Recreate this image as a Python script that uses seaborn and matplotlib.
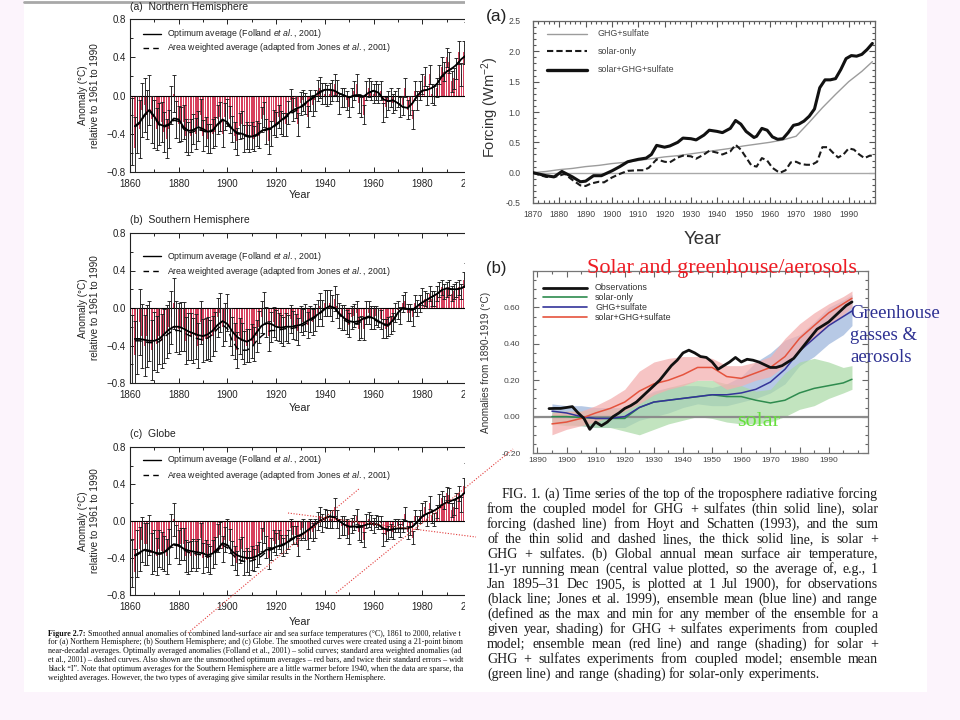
import matplotlib
matplotlib.use("Agg")
import matplotlib.pyplot as plt
from matplotlib.lines import Line2D
from matplotlib.patches import Rectangle
from matplotlib.ticker import MultipleLocator
import seaborn as sns

W, H = 960, 720
SANS = ["Liberation Sans", "DejaVu Sans"]
SERIF = ["Liberation Serif", "DejaVu Serif"]

# ---------------- left figure: annual anomalies 1861-2000 ----------------
YEARS = list(range(1861, 2001))
SMOOTH_YEARS = list(range(1862, 2001, 2))

NH_BARS = [
    -0.38, -0.55, -0.30, -0.35, -0.15, -0.10, -0.20, -0.05, -0.25, -0.30,
    -0.35, -0.30, -0.28, -0.38, -0.45, -0.35, -0.10, 0.02, -0.25, -0.30,
    -0.30, -0.28, -0.42, -0.45, -0.42, -0.35, -0.40, -0.32, -0.20, -0.42,
    -0.38, -0.45, -0.45, -0.40, -0.38, -0.25, -0.22, -0.40, -0.22, -0.18,
    -0.25, -0.35, -0.42, -0.48, -0.32, -0.30, -0.45, -0.42, -0.45, -0.42,
    -0.45, -0.40, -0.42, -0.25, -0.20, -0.38, -0.48, -0.40, -0.28, -0.30,
    -0.22, -0.28, -0.30, -0.30, -0.18, -0.05, -0.15, -0.12, -0.30, -0.08,
    -0.05, -0.08, -0.22, -0.05, -0.10, -0.05, 0.05, 0.08, 0.02, 0.02,
    0.00, 0.02, 0.05, 0.12, 0.05, -0.08, -0.02, -0.02, -0.05, -0.12,
    -0.02, 0.05, 0.12, -0.08, -0.12, -0.20, 0.05, 0.08, 0.05, 0.02,
    0.05, 0.02, 0.05, -0.18, -0.12, -0.05, -0.02, -0.08, -0.05, -0.02,
    -0.12, -0.10, 0.08, -0.15, -0.10, -0.25, 0.05, -0.05, 0.05, 0.12,
    0.20, 0.00, 0.22, 0.02, 0.00, 0.08, 0.22, 0.30, 0.25, 0.40,
    0.35, 0.15, 0.18, 0.28, 0.45, 0.22, 0.45, 0.65, 0.50, 0.45,
]
NH_ERR = [
    0.35, 0.32, 0.30, 0.30, 0.28, 0.28, 0.26, 0.26, 0.25, 0.25,
    0.22, 0.22, 0.21, 0.21, 0.20, 0.20, 0.20, 0.19, 0.19, 0.19,
    0.18, 0.18, 0.17, 0.17, 0.17, 0.16, 0.16, 0.16, 0.16, 0.16,
    0.15, 0.15, 0.15, 0.15, 0.15, 0.15, 0.15, 0.14, 0.14, 0.14,
    0.14, 0.14, 0.14, 0.14, 0.14, 0.14, 0.14, 0.14, 0.14, 0.14,
    0.13, 0.13, 0.13, 0.13, 0.13, 0.13, 0.13, 0.13, 0.13, 0.13,
    0.12, 0.12, 0.12, 0.12, 0.12, 0.12, 0.12, 0.12, 0.12, 0.12,
    0.11, 0.11, 0.11, 0.11, 0.11, 0.11, 0.11, 0.11, 0.11, 0.11,
    0.11, 0.11, 0.11, 0.11, 0.11, 0.11, 0.10, 0.10, 0.10, 0.10,
    0.10, 0.10, 0.10, 0.10, 0.10, 0.10, 0.10, 0.10, 0.10, 0.10,
    0.10, 0.10, 0.10, 0.10, 0.10, 0.10, 0.10, 0.10, 0.10, 0.10,
    0.10, 0.10, 0.10, 0.10, 0.10, 0.10, 0.10, 0.10, 0.10, 0.10,
    0.10, 0.10, 0.10, 0.10, 0.10, 0.10, 0.10, 0.10, 0.10, 0.10,
    0.11, 0.11, 0.11, 0.11, 0.12, 0.12, 0.12, 0.12, 0.13, 0.13,
]
NH_SMOOTH = [
    -0.32, -0.28, -0.20, -0.15, -0.22, -0.30, -0.32, -0.30, -0.24, -0.25,
    -0.33, -0.37, -0.36, -0.33, -0.35, -0.38, -0.36, -0.30, -0.25, -0.28,
    -0.35, -0.39, -0.40, -0.42, -0.43, -0.41, -0.37, -0.35, -0.34, -0.30,
    -0.26, -0.22, -0.17, -0.14, -0.12, -0.08, -0.04, 0.00, 0.04, 0.06,
    0.06, 0.05, 0.02, 0.00, -0.02, 0.00, 0.00, -0.01, 0.03, 0.05,
    0.03, -0.04, -0.06, -0.05, -0.08, -0.12, -0.13, -0.08, 0.00, 0.05,
    0.06, 0.08, 0.12, 0.20, 0.25, 0.28, 0.32, 0.38, 0.42, 0.45,
]
NH_DASHED = [
    -0.33, -0.29, -0.21, -0.16, -0.23, -0.31, -0.33, -0.31, -0.26, -0.27,
    -0.35, -0.39, -0.38, -0.35, -0.37, -0.39, -0.37, -0.31, -0.26, -0.30,
    -0.36, -0.40, -0.41, -0.43, -0.44, -0.42, -0.38, -0.36, -0.35, -0.31,
    -0.27, -0.23, -0.19, -0.16, -0.13, -0.09, -0.05, -0.01, 0.03, 0.06,
    0.06, 0.05, 0.02, 0.00, -0.02, 0.00, 0.00, -0.01, 0.03, 0.05,
    0.03, -0.04, -0.06, -0.05, -0.08, -0.12, -0.13, -0.08, 0.00, 0.05,
    0.06, 0.08, 0.12, 0.20, 0.25, 0.28, 0.32, 0.38, 0.42, 0.45,
]

SH_BARS = [
    -0.45, -0.50, -0.35, -0.15, -0.30, -0.40, -0.30, -0.25, -0.45, -0.35,
    -0.38, -0.30, -0.35, -0.30, -0.25, -0.20, -0.10, 0.05, -0.20, -0.22,
    -0.20, -0.20, -0.35, -0.30, -0.30, -0.35, -0.30, -0.40, -0.15, -0.35,
    -0.33, -0.32, -0.35, -0.30, -0.25, -0.10, -0.05, -0.20, -0.15, -0.05,
    -0.20, -0.30, -0.35, -0.45, -0.30, -0.35, -0.42, -0.40, -0.40, -0.35,
    -0.38, -0.30, -0.20, -0.10, 0.00, -0.15, -0.30, -0.20, -0.15, -0.18,
    -0.20, -0.22, -0.25, -0.20, -0.22, -0.12, -0.18, -0.20, -0.25, -0.12,
    -0.15, -0.10, -0.18, -0.12, -0.15, -0.10, -0.05, 0.02, -0.05, 0.05,
    0.05, 0.05, 0.00, 0.10, 0.02, -0.08, -0.10, -0.10, -0.15, -0.18,
    -0.10, -0.08, -0.05, -0.22, -0.20, -0.22, -0.05, -0.05, -0.10, -0.10,
    -0.08, -0.10, -0.12, -0.22, -0.22, -0.20, -0.18, -0.15, -0.05, -0.02,
    -0.08, 0.05, 0.08, -0.05, -0.05, -0.10, 0.05, 0.00, 0.05, 0.12,
    0.10, 0.08, 0.15, 0.10, 0.10, 0.15, 0.20, 0.22, 0.18, 0.20,
    0.22, 0.15, 0.18, 0.20, 0.22, 0.18, 0.30, 0.40, 0.20, 0.18,
]
SH_ERR = [
    0.38, 0.36, 0.35, 0.35, 0.34, 0.33, 0.33, 0.32, 0.32, 0.31,
    0.30, 0.30, 0.29, 0.29, 0.28, 0.28, 0.28, 0.27, 0.27, 0.27,
    0.26, 0.26, 0.25, 0.25, 0.25, 0.24, 0.24, 0.24, 0.23, 0.23,
    0.22, 0.22, 0.22, 0.21, 0.21, 0.21, 0.21, 0.20, 0.20, 0.20,
    0.20, 0.20, 0.19, 0.19, 0.19, 0.19, 0.18, 0.18, 0.18, 0.18,
    0.18, 0.17, 0.17, 0.17, 0.17, 0.16, 0.16, 0.16, 0.16, 0.16,
    0.15, 0.15, 0.15, 0.15, 0.15, 0.15, 0.15, 0.14, 0.14, 0.14,
    0.14, 0.14, 0.14, 0.14, 0.14, 0.14, 0.14, 0.14, 0.14, 0.14,
    0.14, 0.14, 0.14, 0.13, 0.13, 0.13, 0.13, 0.13, 0.13, 0.13,
    0.12, 0.12, 0.12, 0.12, 0.12, 0.12, 0.12, 0.12, 0.12, 0.12,
    0.10, 0.10, 0.10, 0.10, 0.10, 0.10, 0.10, 0.10, 0.10, 0.10,
    0.09, 0.09, 0.09, 0.09, 0.09, 0.09, 0.09, 0.09, 0.09, 0.09,
    0.08, 0.08, 0.08, 0.08, 0.08, 0.08, 0.08, 0.08, 0.08, 0.08,
    0.08, 0.08, 0.08, 0.08, 0.08, 0.08, 0.08, 0.08, 0.08, 0.08,
]
SH_SMOOTH = [
    -0.33, -0.33, -0.34, -0.35, -0.35, -0.33, -0.28, -0.23, -0.20, -0.20,
    -0.22, -0.25, -0.27, -0.29, -0.30, -0.28, -0.24, -0.18, -0.14, -0.17,
    -0.25, -0.31, -0.34, -0.36, -0.33, -0.26, -0.19, -0.16, -0.17, -0.20,
    -0.21, -0.20, -0.20, -0.19, -0.18, -0.15, -0.12, -0.09, -0.05, -0.01,
    0.02, 0.00, -0.06, -0.11, -0.14, -0.15, -0.14, -0.11, -0.09, -0.11,
    -0.14, -0.17, -0.18, -0.13, -0.05, 0.00, -0.01, -0.02, 0.02, 0.06,
    0.09, 0.12, 0.15, 0.19, 0.21, 0.20, 0.20, 0.21, 0.24, 0.26,
]
SH_DASHED = [
    -0.35, -0.35, -0.36, -0.37, -0.37, -0.36, -0.31, -0.27, -0.24, -0.24,
    -0.26, -0.29, -0.31, -0.33, -0.34, -0.32, -0.28, -0.22, -0.18, -0.22,
    -0.35, -0.43, -0.45, -0.45, -0.42, -0.35, -0.30, -0.26, -0.24, -0.24,
    -0.23, -0.22, -0.22, -0.21, -0.20, -0.17, -0.14, -0.10, -0.06, -0.01,
    0.02, 0.00, -0.07, -0.13, -0.16, -0.17, -0.16, -0.12, -0.10, -0.12,
    -0.15, -0.18, -0.19, -0.14, -0.05, 0.00, -0.01, -0.02, 0.02, 0.06,
    0.09, 0.12, 0.15, 0.19, 0.21, 0.20, 0.20, 0.21, 0.24, 0.26,
]

GL_BARS = [
    -0.45, -0.55, -0.35, -0.30, -0.20, -0.25, -0.25, -0.15, -0.35, -0.32,
    -0.38, -0.30, -0.32, -0.35, -0.38, -0.28, -0.10, 0.02, -0.22, -0.28,
    -0.25, -0.25, -0.38, -0.40, -0.38, -0.35, -0.38, -0.35, -0.18, -0.40,
    -0.35, -0.40, -0.42, -0.36, -0.32, -0.18, -0.15, -0.30, -0.20, -0.12,
    -0.22, -0.35, -0.40, -0.45, -0.32, -0.30, -0.45, -0.42, -0.45, -0.40,
    -0.42, -0.38, -0.35, -0.20, -0.12, -0.28, -0.40, -0.30, -0.22, -0.25,
    -0.20, -0.25, -0.28, -0.25, -0.20, -0.08, -0.15, -0.15, -0.28, -0.10,
    -0.08, -0.10, -0.20, -0.08, -0.12, -0.08, 0.00, 0.05, -0.02, 0.03,
    0.02, 0.02, 0.02, 0.15, 0.02, -0.08, -0.05, -0.05, -0.08, -0.15,
    -0.05, -0.02, 0.05, -0.12, -0.15, -0.20, 0.00, 0.02, -0.02, -0.05,
    0.00, -0.02, -0.02, -0.20, -0.15, -0.12, -0.10, -0.12, -0.05, -0.05,
    -0.10, -0.05, 0.08, -0.12, -0.08, -0.18, 0.05, -0.02, 0.05, 0.12,
    0.15, 0.02, 0.20, 0.05, 0.02, 0.10, 0.22, 0.25, 0.20, 0.30,
    0.28, 0.12, 0.15, 0.22, 0.30, 0.18, 0.38, 0.55, 0.30, 0.28,
]
GL_ERR = [
    0.26, 0.25, 0.25, 0.24, 0.24, 0.23, 0.23, 0.22, 0.22, 0.22,
    0.20, 0.20, 0.20, 0.19, 0.19, 0.19, 0.18, 0.18, 0.18, 0.18,
    0.17, 0.17, 0.17, 0.17, 0.16, 0.16, 0.16, 0.16, 0.16, 0.16,
    0.15, 0.15, 0.15, 0.15, 0.15, 0.15, 0.14, 0.14, 0.14, 0.14,
    0.13, 0.13, 0.13, 0.13, 0.13, 0.13, 0.13, 0.13, 0.13, 0.13,
    0.12, 0.12, 0.12, 0.12, 0.12, 0.12, 0.12, 0.12, 0.12, 0.12,
    0.10, 0.10, 0.10, 0.10, 0.10, 0.10, 0.10, 0.10, 0.10, 0.10,
    0.10, 0.10, 0.10, 0.10, 0.10, 0.10, 0.10, 0.10, 0.10, 0.10,
    0.10, 0.10, 0.10, 0.10, 0.10, 0.10, 0.10, 0.10, 0.10, 0.10,
    0.08, 0.08, 0.08, 0.08, 0.08, 0.08, 0.08, 0.08, 0.08, 0.08,
    0.07, 0.07, 0.07, 0.07, 0.07, 0.07, 0.07, 0.07, 0.07, 0.07,
    0.07, 0.07, 0.07, 0.07, 0.07, 0.07, 0.07, 0.07, 0.07, 0.07,
    0.07, 0.07, 0.07, 0.07, 0.07, 0.07, 0.07, 0.07, 0.07, 0.07,
    0.08, 0.08, 0.08, 0.08, 0.08, 0.08, 0.08, 0.08, 0.08, 0.08,
]
GL_SMOOTH = [
    -0.37, -0.34, -0.31, -0.32, -0.34, -0.35, -0.34, -0.29, -0.25, -0.26,
    -0.30, -0.32, -0.33, -0.34, -0.35, -0.37, -0.35, -0.30, -0.24, -0.26,
    -0.33, -0.37, -0.39, -0.40, -0.40, -0.38, -0.35, -0.31, -0.30, -0.28,
    -0.26, -0.24, -0.20, -0.17, -0.15, -0.12, -0.08, -0.04, 0.00, 0.03,
    0.05, 0.04, 0.00, -0.04, -0.06, -0.06, -0.06, -0.05, -0.03, -0.03,
    -0.04, -0.08, -0.10, -0.09, -0.08, -0.08, -0.08, -0.06, -0.01, 0.05,
    0.08, 0.10, 0.13, 0.17, 0.20, 0.22, 0.24, 0.27, 0.32, 0.35,
]
GL_DASHED = [
    -0.38, -0.35, -0.32, -0.33, -0.35, -0.36, -0.35, -0.30, -0.26, -0.27,
    -0.31, -0.34, -0.35, -0.36, -0.37, -0.39, -0.37, -0.32, -0.26, -0.29,
    -0.36, -0.41, -0.43, -0.44, -0.43, -0.41, -0.38, -0.33, -0.31, -0.29,
    -0.27, -0.25, -0.21, -0.18, -0.16, -0.12, -0.08, -0.04, 0.00, 0.03,
    0.05, 0.04, 0.00, -0.04, -0.06, -0.07, -0.07, -0.05, -0.03, -0.03,
    -0.04, -0.08, -0.10, -0.09, -0.08, -0.08, -0.08, -0.06, -0.01, 0.05,
    0.08, 0.10, 0.13, 0.17, 0.20, 0.22, 0.24, 0.27, 0.32, 0.35,
]

LEFT_PANELS = [
    # title, bars, errors, smooth, dashed, (top, bottom) px, legend rows px, title y, "Year" y
    ("(a)  Northern Hemisphere", NH_BARS, NH_ERR, NH_SMOOTH, NH_DASHED, (19, 172), (34, 48), 7, 195),
    ("(b)  Southern Hemisphere", SH_BARS, SH_ERR, SH_SMOOTH, SH_DASHED, (233, 383), (256, 271), 220, 408),
    ("(c)  Globe", GL_BARS, GL_ERR, GL_SMOOTH, GL_DASHED, (447, 595), (460, 475), 434, 622),
]
LEFT_LEGEND = [r"Optimum average (Folland $\it{et\ al.}$, 2001)",
               r"Area weighted average (adapted from Jones $\it{et\ al.}$, 2001)"]
LEFT_YTICKS = [-0.8, -0.4, 0.0, 0.4, 0.8]
LEFT_YTICKLABELS = ["\u22120.8", "\u22120.4", "0.0", "0.4", "0.8"]

LEFT_CAPTION = [
    "Smoothed annual anomalies of combined land-surface air and sea surface temperatures (\u00b0C), 1861 to 2000, relative to 1961 to 1990,",
    "for (a) Northern Hemisphere; (b) Southern Hemisphere; and (c) Globe. The smoothed curves were created using a 21-point binomial filter to give",
    "near-decadal averages. Optimally averaged anomalies (Folland et al., 2001) \u2013 solid curves; standard area weighted anomalies (adapted from Jones",
    "et al., 2001) \u2013 dashed curves. Also shown are the unsmoothed optimum averages \u2013 red bars, and twice their standard errors \u2013 width of each",
    "black \u201cI\u201d. Note that optimum averages for the Southern Hemisphere are a little warmer before 1940, when the data are sparse, than the area",
    "weighted averages. However, the two types of averaging give similar results in the Northern Hemisphere.",
]

# ---------------- right (a): radiative forcing ----------------
GHG_YEARS = [1870, 1875, 1880, 1885, 1890, 1895, 1900, 1905, 1910, 1915, 1920, 1925, 1930,
             1935, 1940, 1945, 1950, 1955, 1960, 1965, 1970, 1975, 1980, 1985, 1990, 1995, 1999]
GHG_FORCING = [0.0, 0.02, 0.05, 0.07, 0.10, 0.12, 0.15, 0.17, 0.20, 0.23, 0.26, 0.28, 0.31,
               0.34, 0.37, 0.40, 0.44, 0.47, 0.50, 0.54, 0.60, 0.83, 1.07, 1.29, 1.50, 1.67, 1.83]
SOLAR_YEARS = [1870, 1872, 1875, 1878, 1880, 1882, 1885, 1888, 1890, 1892, 1895, 1897, 1900,
               1903, 1906, 1910, 1912, 1914, 1917, 1920, 1922, 1925, 1927, 1930, 1932, 1935,
               1937, 1940, 1942, 1945, 1947, 1949, 1951, 1953, 1955, 1957, 1959, 1961, 1963,
               1964, 1966, 1968, 1970, 1972, 1974, 1976, 1978, 1980, 1982, 1984, 1986, 1988,
               1990, 1992, 1994, 1996, 1998, 1999]
SOLAR_FORCING = [0.0, -0.03, -0.07, -0.07, -0.05, -0.02, -0.12, -0.21, -0.22, -0.18, -0.15,
                 -0.16, -0.08, -0.02, 0.03, 0.04, 0.04, 0.08, 0.22, 0.18, 0.17, 0.25, 0.28,
                 0.27, 0.23, 0.30, 0.36, 0.33, 0.30, 0.35, 0.46, 0.38, 0.25, 0.12, 0.10, 0.24,
                 0.20, 0.08, 0.02, 0.0, 0.04, 0.17, 0.18, 0.14, 0.13, 0.13, 0.18, 0.42, 0.42,
                 0.33, 0.25, 0.30, 0.40, 0.38, 0.30, 0.24, 0.28, 0.28]
TOTAL_YEARS = [1870, 1875, 1878, 1881, 1885, 1888, 1890, 1893, 1896, 1900, 1903, 1906, 1910,
               1913, 1915, 1917, 1920, 1922, 1925, 1927, 1930, 1932, 1935, 1937, 1940, 1942,
               1945, 1947, 1949, 1951, 1954, 1955, 1957, 1959, 1961, 1963, 1965, 1967, 1969,
               1971, 1973, 1975, 1977, 1979, 1981, 1983, 1985, 1987, 1989, 1991, 1993, 1995,
               1997, 1999]
TOTAL_FORCING = [0.0, -0.05, -0.07, 0.02, -0.07, -0.15, -0.14, -0.05, -0.05, 0.03, 0.10, 0.18,
                 0.22, 0.24, 0.30, 0.45, 0.42, 0.44, 0.50, 0.57, 0.56, 0.54, 0.62, 0.70, 0.68,
                 0.66, 0.73, 0.86, 0.80, 0.68, 0.58, 0.60, 0.73, 0.70, 0.59, 0.55, 0.56, 0.66,
                 0.78, 0.80, 0.85, 0.93, 1.05, 1.40, 1.53, 1.53, 1.55, 1.70, 1.88, 1.93, 1.92,
                 1.95, 2.03, 2.13]
FORCING_LEGEND = ["GHG+sulfate", "solar-only", "solar+GHG+sulfate"]

# ---------------- right (b): temperature anomalies ----------------
BAND_YEARS = [1895, 1900, 1905, 1910, 1915, 1920, 1925, 1930, 1935, 1940, 1945,
              1950, 1955, 1960, 1965, 1970, 1975, 1980, 1985, 1990, 1995, 1998]
RED_MEAN = [-0.04, -0.03, -0.01, 0.02, 0.045, 0.08, 0.14, 0.18, 0.20, 0.23, 0.27,
            0.27, 0.22, 0.21, 0.24, 0.27, 0.33, 0.43, 0.50, 0.57, 0.62, 0.65]
RED_LO = [-0.10, -0.07, -0.05, -0.03, 0.00, 0.03, 0.07, 0.12, 0.15, 0.17, 0.20,
          0.20, 0.15, 0.17, 0.20, 0.22, 0.28, 0.36, 0.43, 0.50, 0.56, 0.60]
RED_HI = [0.02, 0.03, 0.03, 0.06, 0.10, 0.15, 0.25, 0.30, 0.32, 0.33, 0.33,
          0.32, 0.28, 0.28, 0.30, 0.33, 0.43, 0.51, 0.57, 0.62, 0.66, 0.69]
BLUE_MEAN = [0.03, 0.02, 0.00, -0.01, -0.01, 0.00, 0.05, 0.08, 0.09, 0.10, 0.11,
             0.12, 0.12, 0.13, 0.15, 0.19, 0.26, 0.36, 0.43, 0.50, 0.55, 0.58]
BLUE_LO = [-0.03, -0.04, -0.05, -0.06, -0.06, -0.06, -0.02, 0.00, 0.02, 0.05, 0.07,
           0.06, 0.06, 0.08, 0.10, 0.13, 0.18, 0.28, 0.33, 0.40, 0.45, 0.50]
BLUE_HI = [0.07, 0.06, 0.06, 0.05, 0.05, 0.05, 0.10, 0.14, 0.16, 0.17, 0.17,
           0.16, 0.18, 0.22, 0.30, 0.35, 0.42, 0.45, 0.52, 0.60, 0.64, 0.67]
GREEN_MEAN = [0.00, 0.00, -0.005, -0.01, -0.01, -0.01, 0.05, 0.08, 0.09, 0.10, 0.11,
              0.12, 0.11, 0.11, 0.09, 0.075, 0.09, 0.13, 0.155, 0.17, 0.185, 0.205]
GREEN_LO = [-0.04, -0.05, -0.05, -0.06, -0.06, -0.08, -0.10, -0.07, -0.04, -0.02, 0.00,
            -0.01, -0.03, -0.04, -0.04, -0.03, 0.00, 0.04, 0.06, 0.10, 0.13, 0.15]
GREEN_HI = [0.03, 0.03, 0.03, 0.04, 0.04, 0.05, 0.10, 0.13, 0.16, 0.18, 0.20,
            0.20, 0.18, 0.17, 0.14, 0.15, 0.24, 0.30, 0.32, 0.30, 0.27, 0.28]
OBS_YEARS = list(range(1894, 1999, 2))
OBS = [0.044, 0.045, 0.045, 0.05, 0.055, 0.02, -0.01, -0.07, -0.03, -0.05,
       -0.03, 0.0, 0.02, 0.045, 0.06, 0.08, 0.11, 0.14, 0.17, 0.20,
       0.24, 0.28, 0.31, 0.35, 0.365, 0.35, 0.33, 0.325, 0.30, 0.26,
       0.28, 0.30, 0.325, 0.30, 0.315, 0.31, 0.30, 0.285, 0.27, 0.27,
       0.28, 0.30, 0.32, 0.36, 0.40, 0.44, 0.48, 0.50, 0.52, 0.55,
       0.58, 0.61, 0.63]
ANOM_LEGEND = ["Observations", "solar-only", "GHG+sulfate", "solar+GHG+sulfate"]

RIGHT_CAPTION = [
    "FIG. 1. (a) Time series of the top of the troposphere radiative forcing",
    "from the coupled model for GHG + sulfates (thin solid line), solar",
    "forcing (dashed line) from Hoyt and Schatten (1993), and the sum",
    "of the thin solid and dashed lines, the thick solid line, is solar +",
    "GHG + sulfates. (b) Global annual mean surface air temperature,",
    "11-yr running mean (central value plotted, so the average of, e.g., 1",
    "Jan 1895\u201331 Dec 1905, is plotted at 1 Jul 1900), for observations",
    "(black line; Jones et al. 1999), ensemble mean (blue line) and range",
    "(defined as the max and min for any member of the ensemble for a",
    "given year, shading) for GHG + sulfates experiments from coupled",
    "model; ensemble mean (red line) and range (shading) for solar +",
    "GHG + sulfates experiments from coupled model; ensemble mean",
    "(green line) and range (shading) for solar-only experiments.",
]

BAR_RED = "#d8405e"
OBS_BLACK = "#111111"
GREEN = "#2e8b4e"
BLUE = "#34339a"
RED = "#e5533d"

sns.set_style("ticks")
plt.rcParams["font.family"] = SANS
plt.rcParams["mathtext.fontset"] = "custom"
plt.rcParams["mathtext.rm"] = "Liberation Sans"
plt.rcParams["mathtext.it"] = "Liberation Sans:italic"
plt.rcParams["axes.unicode_minus"] = False

fig = plt.figure(figsize=(9.6, 7.2), dpi=100, facecolor="#fcf4fc")
renderer = fig.canvas.get_renderer()


def fx(x):
    return x / W


def fy(y):
    return 1 - y / H


def axes_px(l, t, r, b):
    return fig.add_axes([l / W, 1 - b / H, (r - l) / W, (b - t) / H])


def fig_line(x0, y0, x1, y1, **kw):
    fig.add_artist(Line2D([fx(x0), fx(x1)], [fy(y0), fy(y1)], transform=fig.transFigure, **kw))


def text_width(s, size, family, weight="normal"):
    t = fig.text(0, 0, s, fontsize=size, family=family, fontweight=weight)
    w = t.get_window_extent(renderer).width
    t.remove()
    return w


def cut_to_width(s, limit, size, family):
    # the left page is cropped on the slide: keep only what fits before the edge
    while s and text_width(s, size, family) > limit:
        s = s[:-1]
    return s


# white pages
fig.add_artist(Rectangle((fx(24), fy(692)), (927 - 24) / W, 692 / H, transform=fig.transFigure,
                         facecolor="white", edgecolor="none", zorder=-2))
# right page hides the cut-off right edge of the left figure
fig.add_artist(Rectangle((fx(465), fy(692)), (927 - 465) / W, 692 / H, transform=fig.transFigure,
                         facecolor="white", edgecolor="none", zorder=0.5))
fig_line(24, 2, 465, 2, color="#a8a8a8", lw=2, zorder=0.3)

# ---------------- left panels ----------------
for title, bars, errs, smooth, dashed, (top, bot), rows, title_y, xlab_y in LEFT_PANELS:
    ax = axes_px(130, top, 471, bot)
    ax.set_zorder(0)
    ax.bar(YEARS, bars, width=0.62, color=BAR_RED, linewidth=0, zorder=1)
    ax.errorbar(YEARS, bars, yerr=errs, fmt="none", ecolor="#1e1e1e", elinewidth=0.65,
                capsize=1.2, capthick=0.65, zorder=2)
    ax.axhline(0, color="black", lw=0.8, zorder=1.5)
    sns.lineplot(x=SMOOTH_YEARS, y=dashed, ax=ax, color="black", lw=1.0,
                 linestyle=(0, (5, 3)), legend=False, zorder=3)
    sns.lineplot(x=SMOOTH_YEARS, y=smooth, ax=ax, color="black", lw=1.3, legend=False, zorder=3)
    ax.set_xlim(1860, 2000)
    ax.set_ylim(-0.8, 0.8)
    ax.xaxis.set_major_locator(MultipleLocator(20))
    ax.xaxis.set_minor_locator(MultipleLocator(10))
    ax.set_yticks(LEFT_YTICKS)
    ax.set_yticklabels(LEFT_YTICKLABELS)
    ax.yaxis.set_minor_locator(MultipleLocator(0.2))
    ax.tick_params(which="both", direction="in", top=True, right=False, width=0.7,
                   labelsize=7, colors="#222222")
    ax.tick_params(which="major", length=3.5)
    ax.tick_params(which="minor", length=2.5)
    ax.tick_params(axis="x", pad=5)
    ax.tick_params(axis="y", pad=3)
    ax.set_xlabel("")
    ax.set_ylabel("")
    for s in ["left", "bottom", "top"]:
        ax.spines[s].set_linewidth(0.8)
        ax.spines[s].set_color("#222222")
    ax.spines["right"].set_visible(False)

    fig.text(fx(130), fy(title_y), title, fontsize=7.5, va="center", ha="left", color="#222222")
    fig.text(fx(300), fy(xlab_y), "Year", fontsize=7.8, va="center", ha="center", color="#222222")
    fig.text(fx(89), fy((top + bot) / 2), "Anomaly (\u00b0C)\nrelative to 1961 to 1990",
             fontsize=7.2, rotation=90, va="center", ha="center", color="#222222", linespacing=1.35)
    for row_y, label, style in zip(rows, LEFT_LEGEND, ["-", (0, (4, 3))]):
        fig_line(143, row_y, 161, row_y, color="black", lw=1.0, linestyle=style, zorder=0.4)
        fig.text(fx(167), fy(row_y), label, fontsize=6.3, va="center", ha="left",
                 color="#222222", zorder=0.4)

# left caption, cropped at the page edge like the slide
LCAP_SIZE = 5.75
LEFT_EDGE = 464
bold_w = text_width("Figure 2.7: ", LCAP_SIZE, SERIF, "bold")
for i, line in enumerate(LEFT_CAPTION):
    y = 635.5 + i * 8.8
    x = 48
    if i == 0:
        fig.text(fx(x), fy(y), "Figure 2.7:", fontsize=LCAP_SIZE, family=SERIF, fontweight="bold",
                 va="baseline", ha="left", color="#111111", zorder=0.3)
        x += bold_w
    shown = cut_to_width(line, LEFT_EDGE - x, LCAP_SIZE, SERIF)
    fig.text(fx(x), fy(y), shown, fontsize=LCAP_SIZE, family=SERIF, va="baseline", ha="left",
             color="#111111", zorder=0.3)

# ---------------- right (a): forcing ----------------
axa = axes_px(533, 21, 875, 203)
axa.set_zorder(1)
axa.axhline(0, color="#a9a9a9", lw=1.0, zorder=1)
sns.lineplot(x=GHG_YEARS, y=GHG_FORCING, ax=axa, color="#9c9c9c", lw=1.0, legend=False, zorder=2)
sns.lineplot(x=SOLAR_YEARS, y=SOLAR_FORCING, ax=axa, color="#1a1a1a", lw=1.5,
             linestyle=(0, (3, 1.5)), legend=False, zorder=3)
sns.lineplot(x=TOTAL_YEARS, y=TOTAL_FORCING, ax=axa, color="#111111", lw=2.2, legend=False, zorder=4)
axa.set_xlim(1870, 2000)
axa.set_ylim(-0.5, 2.5)
axa.set_xticks(list(range(1870, 1991, 10)))
axa.set_xticklabels([str(y) for y in range(1870, 1991, 10)])
axa.xaxis.set_minor_locator(MultipleLocator(2))
axa.set_yticks([-0.5, 0.0, 0.5, 1.0, 1.5, 2.0, 2.5])
axa.set_yticklabels(["-0.5", "0.0", "0.5", "1.0", "1.5", "2.0", "2.5"])
axa.yaxis.set_minor_locator(MultipleLocator(0.1))
axa.tick_params(which="both", direction="in", top=True, right=True, width=0.8,
                labelsize=6.2, colors="#555555", labelcolor="#444444")
axa.tick_params(which="major", length=4)
axa.tick_params(which="minor", length=2)
axa.tick_params(axis="y", pad=9)
axa.tick_params(axis="x", pad=5)
axa.set_xlabel("")
axa.set_ylabel("")
for s in axa.spines.values():
    s.set_color("#666666")
    s.set_linewidth(0.9)
fig.text(fx(486), fy(17), "(a)", fontsize=12.5, va="center", ha="left", color="#222222", zorder=2)
fig.text(fx(490), fy(107), "Forcing (Wm$^{-2}$)", fontsize=10.5, rotation=90, va="center",
         ha="center", color="#333333", zorder=2)
fig.text(fx(703), fy(240), "Year", fontsize=13.5, va="center", ha="center", color="#333333", zorder=2)
forcing_styles = [("#9c9c9c", 1.0, "-"), ("#1a1a1a", 1.5, (0, (3, 1.5))), ("#111111", 2.4, "-")]
for row_y, label, (c, lw, ls) in zip([34, 51, 70], FORCING_LEGEND, forcing_styles):
    fig_line(547, row_y, 587, row_y, color=c, lw=lw, linestyle=ls, zorder=2)
    fig.text(fx(598), fy(row_y), label, fontsize=6.4, va="center", ha="left",
             color="#444444", zorder=2)

# ---------------- right (b): anomalies ----------------
axb = axes_px(533, 271, 868, 453)
axb.set_zorder(1)
axb.fill_between(BAND_YEARS, BLUE_LO, BLUE_HI, color="#9fb7dd", alpha=0.75, lw=0, zorder=1)
axb.fill_between(BAND_YEARS, GREEN_LO, GREEN_HI, color="#a9d9a4", alpha=0.7, lw=0, zorder=1.1)
axb.fill_between(BAND_YEARS, RED_LO, RED_HI, color="#f4b0b0", alpha=0.75, lw=0, zorder=1.2)
axb.axhline(0, color="#8c8c8c", lw=1.6, zorder=1.5)
sns.lineplot(x=BAND_YEARS, y=GREEN_MEAN, ax=axb, color=GREEN, lw=1.1, legend=False, zorder=2)
sns.lineplot(x=BAND_YEARS, y=BLUE_MEAN, ax=axb, color=BLUE, lw=1.1, legend=False, zorder=2.1)
sns.lineplot(x=BAND_YEARS, y=RED_MEAN, ax=axb, color=RED, lw=1.1, legend=False, zorder=2.2)
sns.lineplot(x=OBS_YEARS, y=OBS, ax=axb, color=OBS_BLACK, lw=2.0, legend=False, zorder=2.3)
axb.set_xlim(1888.5, 2003.5)
axb.set_ylim(-0.2, 0.8)
axb.set_xticks(list(range(1890, 2000, 10)))
axb.set_xticklabels([str(y) for y in range(1890, 2000, 10)])
axb.xaxis.set_minor_locator(MultipleLocator(5))
axb.set_yticks([-0.2, 0.0, 0.2, 0.4, 0.6])
axb.set_yticklabels(["-0.20", "0.00", "0.20", "0.40", "0.60"])
axb.yaxis.set_minor_locator(MultipleLocator(0.05))
axb.tick_params(which="both", direction="in", top=True, right=True, width=0.8,
                labelsize=6.0, colors="#666666", labelcolor="#444444")
axb.tick_params(which="major", length=4)
axb.tick_params(which="minor", length=2)
axb.tick_params(axis="y", pad=9)
axb.tick_params(axis="x", pad=3)
axb.set_xlabel("")
axb.set_ylabel("")
for s in axb.spines.values():
    s.set_color("#777777")
    s.set_linewidth(0.9)
fig.text(fx(486), fy(269), "(b)", fontsize=12, va="center", ha="left", color="#222222", zorder=2)
fig.text(fx(486), fy(362), "Anomalies from 1890-1919 (\u00b0C)", fontsize=7.2, rotation=90,
         va="center", ha="center", color="#333333", zorder=2)
anom_styles = [(OBS_BLACK, 2.0), (GREEN, 1.2), (BLUE, 1.2), (RED, 1.2)]
for row_y, label, (c, lw) in zip([288, 297, 307, 317], ANOM_LEGEND, anom_styles):
    fig_line(543, row_y, 587, row_y, color=c, lw=lw, zorder=2)
    fig.text(fx(595), fy(row_y), label, fontsize=6.4, va="center", ha="left",
             color="#333333", zorder=2)

# right caption, justified word by word on a common baseline
REF_SIZE = 10.0
cap_words = [line.split(" ") for line in RIGHT_CAPTION]
cap_widths = [[text_width(w, REF_SIZE, SERIF) for w in words] for words in cap_words]
ref_space = REF_SIZE * 0.25 * 100 / 72
fit = []
for i, (words, widths) in enumerate(zip(cap_words, cap_widths)):
    avail = 878 - (502 if i == 0 else 487)
    natural = sum(widths) + 0.85 * ref_space * (len(words) - 1)
    fit.append(REF_SIZE * avail / natural)
CAP_SIZE = min(10.6, min(fit[:-1]))
scale = CAP_SIZE / REF_SIZE
for i, (words, widths) in enumerate(zip(cap_words, cap_widths)):
    y = 498 + i * 15
    x0 = 502 if i == 0 else 487
    x1 = 878
    widths = [wd * scale for wd in widths]
    if i == len(RIGHT_CAPTION) - 1:
        gap = ref_space * scale
    else:
        gap = (x1 - x0 - sum(widths)) / (len(words) - 1)
    x = x0
    for w, wd in zip(words, widths):
        fig.text(fx(x), fy(y), w, fontsize=CAP_SIZE, family=SERIF, va="baseline", ha="left",
                 color="#1a1a1a", zorder=2)
        x += wd + gap

# ---------------- slide annotations ----------------
fig.text(fx(587), fy(268), "Solar and greenhouse/aerosols", fontsize=16, family=SERIF,
         color="#ee1c24", va="center", ha="left", zorder=6)
for k, word in enumerate(["Greenhouse", "gasses &", "aerosols"]):
    fig.text(fx(850), fy(313 + k * 22.5), word, fontsize=13.5, family=SERIF,
             color="#2e3192", va="center", ha="left", zorder=6)
fig.text(fx(737), fy(422), "solar", fontsize=16, family=SERIF, color="#66e03c",
         va="center", ha="left", zorder=6)
dot_style = dict(color="#e23a3a", lw=0.8, linestyle=(0, (1, 1.5)), zorder=5)
fig_line(188, 633, 360, 488, **dot_style)
fig_line(336, 593, 513, 449, **dot_style)
fig_line(288, 513, 476, 537, **dot_style)

fig.savefig("out.png", dpi=100, facecolor=fig.get_facecolor())
